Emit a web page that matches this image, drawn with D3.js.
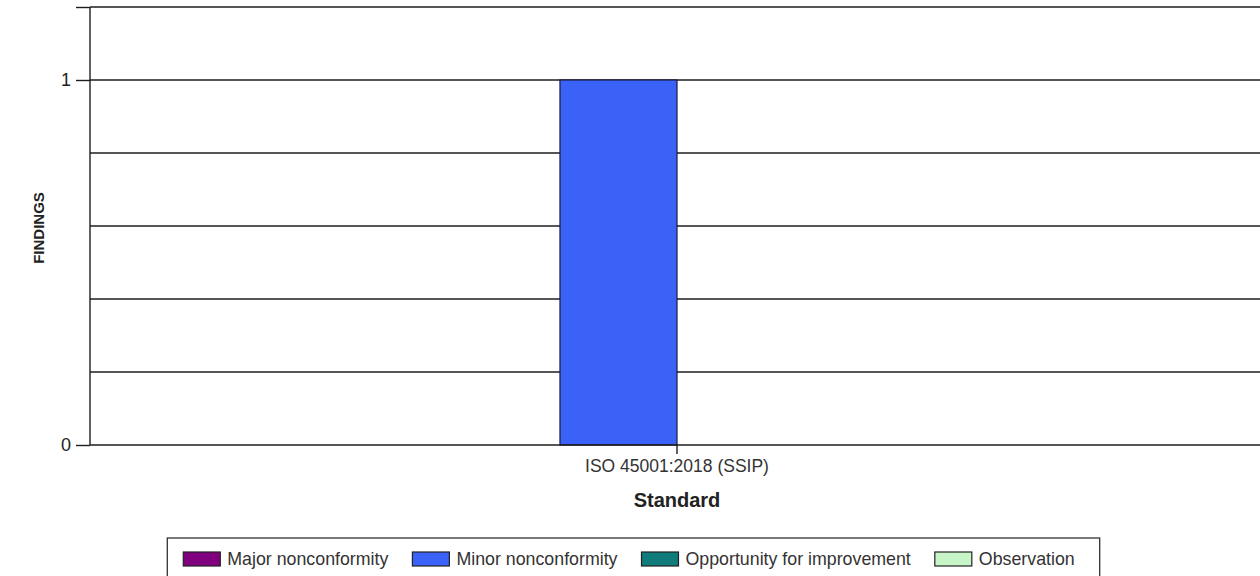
<!DOCTYPE html>
<html>
<head>
<meta charset="utf-8">
<script src="https://cdn.jsdelivr.net/npm/d3@7"></script>
<style>
  html, body { margin: 0; padding: 0; background: #fff; }
  svg { display: block; }
  text { font-family: "Liberation Sans", Arial, sans-serif; }
</style>
</head>
<body>
<svg id="chart" width="1260" height="576"></svg>
<script>
// ---- data ----
const categories = ["ISO 45001:2018 (SSIP)"];
const seriesNames = ["Major nonconformity", "Minor nonconformity", "Opportunity for improvement", "Observation"];
const seriesColors = ["#800080", "#3a62f7", "#0f7b7b", "#c8f5c8"];
const majorValues = [0];
const minorValues = [1];
const opportunityValues = [0];
const observationValues = [0];
const yTickValues = [0, 1, 1.2];
const yTickLabels = ["0", "1", ""];
const gridValues = [0.2, 0.4, 0.6, 0.8, 1.0, 1.2];
const yTitle = "FINDINGS";
const xTitle = "Standard";

const seriesValues = [majorValues, minorValues, opportunityValues, observationValues];

// ---- layout ----
const svg = d3.select("#chart");
const plot = { left: 90, right: 1264, top: 7, bottom: 445 };

const y = d3.scaleLinear().domain([0, 1.2]).range([plot.bottom, plot.top]);
const x0 = d3.scaleBand().domain(categories).range([plot.left, plot.right])
  .paddingInner(0).paddingOuter(0.754);
const x1 = d3.scaleBand().domain(seriesNames).range([0, x0.bandwidth()]);

// gridlines
svg.append("g").selectAll("line").data(gridValues).join("line")
  .attr("x1", plot.left).attr("x2", plot.right)
  .attr("y1", d => y(d)).attr("y2", d => y(d))
  .attr("stroke", "#1e1e1e").attr("stroke-width", 1.4);

// bars
const rows = [];
categories.forEach((c, i) => {
  seriesNames.forEach((s, j) => rows.push({ cat: c, series: s, value: seriesValues[j][i], color: seriesColors[j] }));
});
svg.append("g").selectAll("rect").data(rows.filter(d => d.value > 0)).join("rect")
  .attr("x", d => x0(d.cat) + x1(d.series))
  .attr("width", x1.bandwidth())
  .attr("y", d => y(d.value))
  .attr("height", d => y(0) - y(d.value))
  .attr("fill", d => d.color)
  .attr("stroke", "#1a1a40").attr("stroke-width", 1.2);

// y axis
const yAxis = d3.axisLeft(y).tickValues(yTickValues)
  .tickFormat((d, i) => yTickLabels[i]).tickSize(14).tickPadding(5);
const gy = svg.append("g").attr("transform", `translate(${plot.left},0)`).call(yAxis);
gy.select(".domain").attr("stroke", "#1e1e1e").attr("stroke-width", 1.4)
  .attr("d", `M0,${plot.top}V${plot.bottom}`);
gy.selectAll(".tick line").attr("stroke", "#1e1e1e").attr("stroke-width", 1.4);
gy.selectAll(".tick text").attr("font-size", 18).attr("fill", "#222")
  .attr("font-family", "Liberation Sans, Arial, sans-serif");

// x axis
const xAxis = d3.axisBottom(x0).tickSize(9).tickPadding(6).tickSizeOuter(0);
const gx = svg.append("g").attr("transform", `translate(0,${plot.bottom})`).call(xAxis);
gx.select(".domain").attr("stroke", "#1e1e1e").attr("stroke-width", 1.4)
  .attr("d", `M${plot.left},0H${plot.right}`);
gx.selectAll(".tick line").attr("stroke", "#1e1e1e").attr("stroke-width", 1.4);
gx.selectAll(".tick text").attr("font-size", 17.5).attr("fill", "#333")
  .attr("font-family", "Liberation Sans, Arial, sans-serif");

// axis titles
svg.append("text").attr("x", (plot.left + plot.right) / 2).attr("y", 507)
  .attr("text-anchor", "middle").attr("font-size", 20).attr("font-weight", "bold")
  .attr("fill", "#222").text(xTitle);
svg.append("text").attr("transform", `translate(44,${(plot.top + plot.bottom) / 2 + 2}) rotate(-90)`)
  .attr("text-anchor", "middle").attr("font-size", 15).attr("font-weight", "bold")
  .attr("fill", "#222").text(yTitle);

// legend
const legend = svg.append("g");
const swW = 37, swH = 14, swGap = 7, itemGap = 24, padL = 16, padR = 25;
let cx = 0;
seriesNames.forEach((s, j) => {
  const g = legend.append("g");
  g.append("rect").attr("x", cx).attr("y", 552).attr("width", swW).attr("height", swH)
    .attr("fill", seriesColors[j]).attr("stroke", "#222").attr("stroke-width", 1.2);
  const t = g.append("text").attr("x", cx + swW + swGap).attr("y", 565)
    .attr("font-size", 17.8).attr("fill", "#333").text(s);
  const w = t.node().getComputedTextLength();
  cx += swW + swGap + w + itemGap;
});
const totalW = cx - itemGap + padL + padR;
const boxX = 633.5 - totalW / 2;
legend.insert("rect", ":first-child").attr("x", -padL).attr("y", 538)
  .attr("width", totalW).attr("height", 50)
  .attr("fill", "#fff").attr("stroke", "#333").attr("stroke-width", 1.3);
legend.attr("transform", `translate(${boxX + padL},0)`);
</script>
</body>
</html>
